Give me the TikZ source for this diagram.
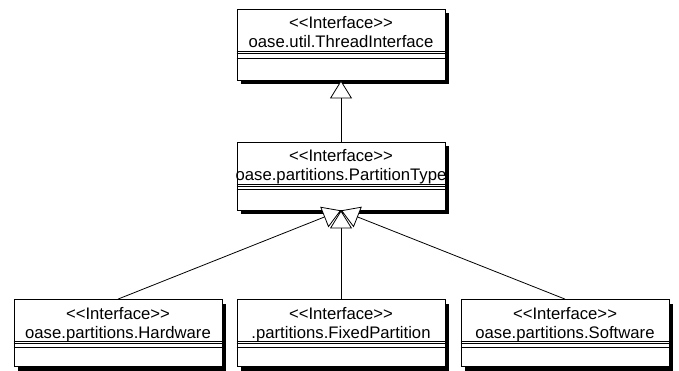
\documentclass[tikz,border=0pt]{standalone}
\usepackage{fontspec}
\setmainfont{Liberation Sans}
\usetikzlibrary{arrows.meta,shadows}

\tikzset{
  iface/.style={draw,fill=white,line width=0.8pt,minimum width=208pt,minimum height=68pt,inner sep=0pt,
    drop shadow={shadow xshift=4pt,shadow yshift=-4pt,fill=black,opacity=1}},
  ifacename/.style={anchor=north,align=center,inner sep=0pt,font=\fontsize{16.7}{19}\selectfont},
  compart/.style={line width=0.5pt},
  inherits/.style={line width=0.8pt,-{Triangle[fill=white,length=18pt,width=22pt]}}
}

\begin{document}
\begin{tikzpicture}[x=1pt,y=-1pt]
\useasboundingbox (0,0) rectangle (679,371);

%% class boxes
\node[iface,minimum height=71pt] (thread) at (341,44.5) {};
\node[iface] (ptype) at (341,176) {};
\node[iface,minimum height=67pt] (hw) at (118,333) {};
\node[iface,minimum height=67pt] (fixed) at (341,333) {};
\node[iface,minimum height=67pt] (sw) at (565,333) {};

%% compartments
\draw[compart] ([yshift=-43pt]thread.north west) -- ([yshift=-43pt]thread.north east)
  ([yshift=-45pt]thread.north west) -- ([yshift=-45pt]thread.north east);
\draw[compart,line width=0.8pt] ([yshift=-50pt]thread.north west) -- ([yshift=-50pt]thread.north east);
\draw[compart] ([yshift=-43pt]ptype.north west) -- ([yshift=-43pt]ptype.north east)
  ([yshift=-45pt]ptype.north west) -- ([yshift=-45pt]ptype.north east);
\draw[compart,line width=0.8pt] ([yshift=-48pt]ptype.north west) -- ([yshift=-48pt]ptype.north east);
\draw[compart] ([yshift=-42pt]hw.north west) -- ([yshift=-42pt]hw.north east)
  ([yshift=-44pt]hw.north west) -- ([yshift=-44pt]hw.north east);
\draw[compart,line width=0.8pt] ([yshift=-48pt]hw.north west) -- ([yshift=-48pt]hw.north east);
\draw[compart] ([yshift=-42pt]fixed.north west) -- ([yshift=-42pt]fixed.north east)
  ([yshift=-44pt]fixed.north west) -- ([yshift=-44pt]fixed.north east);
\draw[compart,line width=0.8pt] ([yshift=-48pt]fixed.north west) -- ([yshift=-48pt]fixed.north east);
\draw[compart] ([yshift=-42pt]sw.north west) -- ([yshift=-42pt]sw.north east)
  ([yshift=-44pt]sw.north west) -- ([yshift=-44pt]sw.north east);
\draw[compart,line width=0.8pt] ([yshift=-48pt]sw.north west) -- ([yshift=-48pt]sw.north east);

%% names
\node[ifacename] (threadname) at ([yshift=-8pt]thread.north) {<{}<Interface>{}>\\oase.util.ThreadInterface};
\begin{scope}
\clip (ptype.north west) rectangle (ptype.south east);
\node[ifacename] (ptypename) at ([yshift=-8pt]ptype.north) {<{}<Interface>{}>\\oase.partitions.PartitionType};
\end{scope}
\node[ifacename] (hwname) at ([yshift=-8pt]hw.north) {<{}<Interface>{}>\\oase.partitions.Hardware};
\node[ifacename] (fixedname) at ([yshift=-8pt]fixed.north) {<{}<Interface>{}>\\.partitions.FixedPartition};
\node[ifacename] (swname) at ([yshift=-8pt]sw.north) {<{}<Interface>{}>\\oase.partitions.Software};

%% generalizations
\draw[inherits] (ptype) -- (thread);
\draw[inherits] (hw.north) -- (ptype.south);
\draw[inherits] (sw.north) -- (ptype.south);
\draw[inherits] (fixed.north) -- (ptype.south);
\end{tikzpicture}
\end{document}
